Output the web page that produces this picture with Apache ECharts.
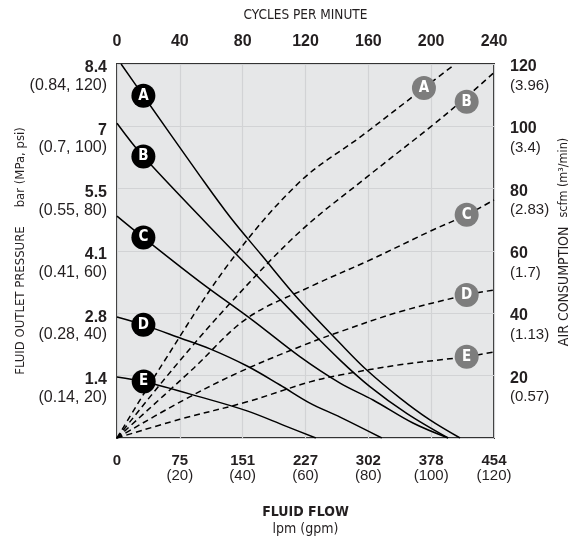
<!DOCTYPE html>
<html><head><meta charset="utf-8">
<script src="https://cdn.jsdelivr.net/npm/echarts@6/dist/echarts.min.js"></script>
<style>html,body{margin:0;padding:0;background:#fff}#c{width:575px;height:539px}</style>
</head><body><div id="c"></div>
<script>
// ---- tick labels ----
const flowTicksLpm = ['0', '75', '151', '227', '302', '378', '454'];
const flowTicksGpm = ['', '(20)', '(40)', '(60)', '(80)', '(100)', '(120)'];
const cpmTicks = ['0', '40', '80', '120', '160', '200', '240'];
const pressBar = ['', '1.4', '2.8', '4.1', '5.5', '7', '8.4'];
const pressSub = ['', '(0.14, 20)', '(0.28, 40)', '(0.41, 60)', '(0.55, 80)', '(0.7, 100)', '(0.84, 120)'];
const airScfm = ['', '20', '40', '60', '80', '100', '120'];
const airSub = ['', '(0.57)', '(1.13)', '(1.7)', '(2.83)', '(3.4)', '(3.96)'];
const curveNames = ['A', 'B', 'C', 'D', 'E'];

// ---- fluid outlet pressure (psi) vs fluid flow (gpm) ----
const pressA_gpm = [1.3, 8.4, 26.4, 36.0, 46.0, 58.2, 71.0, 79.5, 90.1, 99.6, 109.2];
const pressA_psi = [120, 109.8, 84.1, 70.9, 58.7, 44.0, 30.4, 21.8, 12.8, 5.8, 0];
const pressB_gpm = [0, 8.4, 38.2, 58.2, 71.0, 80.5, 92.2, 105.4];
const pressB_psi = [101, 90.3, 58.7, 37.9, 25.0, 16.5, 7.9, 0];
const pressC_gpm = [0, 8.4, 26.4, 43.0, 58.2, 71.0, 81.5, 94.2, 105.4];
const pressC_psi = [71.2, 64.3, 50.1, 37.9, 26.1, 17.6, 12.2, 4.8, 0];
const pressD_gpm = [0, 8.4, 20.1, 29.6, 41.4, 51.9, 61.4, 71.0, 84.3];
const pressD_psi = [38.8, 36.3, 32.1, 28.6, 23.1, 17.0, 11.2, 6.7, 0];
const pressE_gpm = [0, 8.5, 26.4, 41.4, 53.5, 63.3];
const pressE_psi = [19.6, 18.1, 13.2, 8.7, 3.9, 0];

// ---- air consumption (scfm) vs fluid flow (gpm) ----
const airA_gpm = [0, 14, 36, 58.2, 78, 97.7, 106.5];
const airA_scfm = [0, 23, 56.5, 82.2, 97, 112.3, 119.1];
const airB_gpm = [0, 18, 36, 58.2, 79.5, 100, 111.3, 119.7];
const airB_scfm = [0, 22.4, 43.2, 66.2, 83.7, 100, 109.5, 117];
const airC_gpm = [0, 24.4, 41.4, 61.4, 80.5, 100, 111.3, 120];
const airC_scfm = [0, 22.4, 38.4, 48.5, 57.1, 66.5, 71.6, 76.4];
const airD_gpm = [0, 20, 38.2, 58.2, 71, 90, 111.3, 120];
const airD_scfm = [0, 11.5, 20.8, 29.3, 34.1, 40.5, 45.9, 47.5];
const airE_gpm = [0, 20, 41.4, 61.4, 71, 90, 111.3, 120];
const airE_scfm = [0, 6, 11.6, 18, 20.2, 23.5, 26.1, 27.6];

// ---- curve tags ----
const pressTag_gpm = [8.4, 8.4, 8.4, 8.4, 8.5];
const pressTag_psi = [109.8, 90.3, 64.3, 36.3, 18.1];
const airTag_gpm = [97.7, 111.3, 111.3, 111.3, 111.3];
const airTag_scfm = [112.3, 107.9, 71.6, 45.9, 26.1];

const NARROW = "'Liberation Sans Narrow','DejaVu Sans Condensed',sans-serif";
const REG = "'Liberation Sans',Arial,sans-serif";
const TXT = '#231f20';

const zip = (xs, ys) => xs.map((x, i) => [x, ys[i]]);
const pressSets = [[pressA_gpm, pressA_psi], [pressB_gpm, pressB_psi], [pressC_gpm, pressC_psi], [pressD_gpm, pressD_psi], [pressE_gpm, pressE_psi]];
const airSets = [[airA_gpm, airA_scfm], [airB_gpm, airB_scfm], [airC_gpm, airC_scfm], [airD_gpm, airD_scfm], [airE_gpm, airE_scfm]];

const series = [];
pressSets.forEach((s, i) => series.push({
  type: 'line', name: 'P' + curveNames[i], xAxisIndex: 0, yAxisIndex: 0,
  data: zip(s[0], s[1]), symbol: 'none', smooth: 0.35, clip: true,
  lineStyle: { color: '#000', width: 1.5 }, z: 3, silent: true
}));
airSets.forEach((s, i) => series.push({
  type: 'line', name: 'Q' + curveNames[i], xAxisIndex: 0, yAxisIndex: 1,
  data: zip(s[0], s[1]), symbol: 'none', smooth: 0.35, clip: true,
  lineStyle: { color: '#000', width: 1.5, type: [6, 4] }, z: 3, silent: true
}));
const tagLabel = { show: true, position: 'inside', color: '#fff', fontFamily: NARROW, fontWeight: 'bold', fontSize: 15, formatter: p => p.data[2] };
series.push({
  type: 'scatter', xAxisIndex: 0, yAxisIndex: 0, symbolSize: 24, z: 5, silent: true,
  itemStyle: { color: '#000', opacity: 1 }, label: tagLabel,
  data: pressTag_gpm.map((x, i) => [x, pressTag_psi[i], curveNames[i]])
});
series.push({
  type: 'scatter', xAxisIndex: 0, yAxisIndex: 1, symbolSize: 24, z: 5, silent: true,
  itemStyle: { color: '#7d7d7d', opacity: 1 }, label: tagLabel,
  data: airTag_gpm.map((x, i) => [x, airTag_scfm[i], curveNames[i]])
});

const idx = v => Math.round(v / 20);
const option = {
  animation: false,
  backgroundColor: '#fff',
  grid: { left: 117, right: 81, top: 64, bottom: 101, show: true, backgroundColor: '#e6e7e8', borderColor: '#333', borderWidth: 2, containLabel: false, outerBoundsMode: 'none' },
  xAxis: [{
    type: 'value', position: 'bottom', min: 0, max: 120, interval: 20,
    axisLine: { show: false }, axisTick: { show: false },
    splitLine: { show: true, lineStyle: { color: '#d2d3d5', width: 1.2 } },
    axisLabel: {
      margin: 15, showMinLabel: true, showMaxLabel: true, color: TXT,
      formatter: v => { const i = idx(v); return flowTicksGpm[i] ? '{b|' + flowTicksLpm[i] + '}\n{n|' + flowTicksGpm[i] + '}' : '{b|' + flowTicksLpm[i] + '}'; },
      rich: { b: { fontFamily: REG, fontWeight: 'bold', fontSize: 15, lineHeight: 16, color: TXT }, n: { fontFamily: REG, fontSize: 15, lineHeight: 14, color: TXT } }
    },
    name: '{t|FLUID FLOW}\n{s|lpm (gpm)}', nameLocation: 'middle', nameGap: 66, nameMoveOverlap: false,
    nameTextStyle: { rich: { t: { fontFamily: NARROW, fontWeight: 'bold', fontSize: 14, lineHeight: 17, color: TXT }, s: { fontFamily: NARROW, fontSize: 14, lineHeight: 17, color: TXT } } }
  }, {
    type: 'value', position: 'top', min: 0, max: 240, interval: 40,
    axisLine: { show: false }, axisTick: { show: false }, splitLine: { show: false },
    axisLabel: { margin: 14, showMinLabel: true, showMaxLabel: true, color: TXT, fontFamily: REG, fontWeight: 'bold', fontSize: 16, lineHeight: 16,
      formatter: v => cpmTicks[Math.round(v / 40)] },
    name: 'CYCLES PER MINUTE', nameLocation: 'middle', nameGap: 42, nameMoveOverlap: false,
    nameTextStyle: { fontFamily: NARROW, fontSize: 13.5, color: TXT }
  }],
  yAxis: [{
    type: 'value', position: 'left', min: 0, max: 120, interval: 20,
    axisLine: { show: false }, axisTick: { show: false },
    splitLine: { show: true, lineStyle: { color: '#d2d3d5', width: 1.2 } },
    axisLabel: {
      margin: 10, showMinLabel: true, showMaxLabel: true, align: 'right',
      formatter: v => { const i = idx(v); return i === 0 ? '' : '{e| }\n{b|' + pressBar[i] + '}\n{n|' + pressSub[i] + '}'; },
      rich: { e: { fontSize: 10, lineHeight: 25 }, b: { fontFamily: REG, fontWeight: 'bold', fontSize: 16, lineHeight: 18, color: TXT, align: 'right' }, n: { fontFamily: REG, fontSize: 16, lineHeight: 17, color: TXT, align: 'right' } }
    },
    name: '{a|FLUID OUTLET PRESSURE}{g|}{b|bar (MPa, psi)}', nameLocation: 'middle', nameGap: 90, nameRotate: 90, nameMoveOverlap: false,
    nameTextStyle: { rich: { a: { fontFamily: NARROW, fontSize: 13, color: TXT }, g: { width: 19 }, b: { fontFamily: NARROW, fontSize: 13, color: TXT } } }
  }, {
    type: 'value', position: 'right', min: 0, max: 120, interval: 20,
    axisLine: { show: false }, axisTick: { show: false }, splitLine: { show: false },
    axisLabel: {
      margin: 16, showMinLabel: true, showMaxLabel: true, align: 'left',
      formatter: v => { const i = idx(v); return i === 0 ? '' : '{e| }\n{b|' + airScfm[i] + '}\n{n|' + airSub[i] + '}'; },
      rich: { e: { fontSize: 10, lineHeight: 25 }, b: { fontFamily: REG, fontWeight: 'bold', fontSize: 16, lineHeight: 18, color: TXT, align: 'left' }, n: { fontFamily: REG, fontSize: 15, lineHeight: 20, color: TXT, align: 'left' } }
    },
    name: '{a|AIR CONSUMPTION}{g|}{b|scfm (m³/min)}', nameLocation: 'middle', nameGap: 63, nameRotate: 90, nameMoveOverlap: false,
    nameTextStyle: { rich: { a: { fontFamily: NARROW, fontSize: 14, color: TXT, padding: [0, 0, 0, 18] }, g: { width: 9 }, b: { fontFamily: NARROW, fontSize: 12.5, color: TXT } } }
  }],
  series: series
};
const chart = echarts.init(document.getElementById('c'), null, { renderer: 'canvas' });
chart.setOption(option);
</script></body></html>
